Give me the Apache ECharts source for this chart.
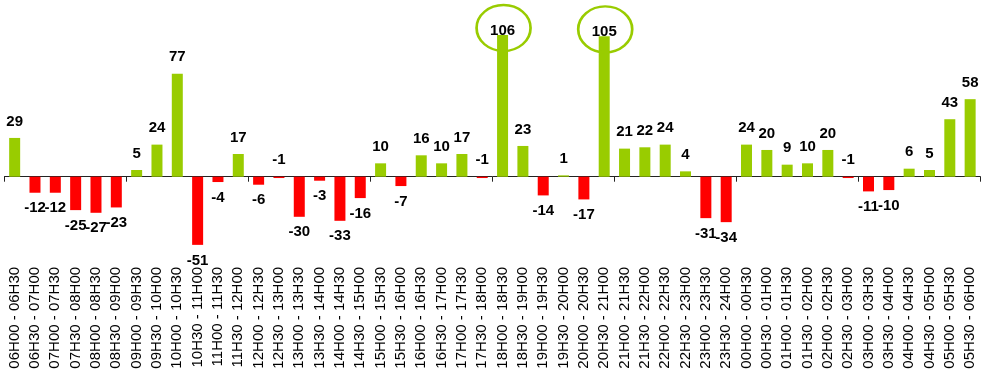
<!DOCTYPE html>
<html>
<head>
<meta charset="utf-8">
<script src="https://cdn.jsdelivr.net/npm/echarts@6/dist/echarts.min.js"></script>
<style>
html,body{margin:0;padding:0;background:#fff;}
#chart{width:985px;height:377px;}
</style>
</head>
<body>
<div id="chart"></div>
<script>
const categories = [
  "06H00 - 06H30","06H30 - 07H00","07H00 - 07H30","07H30 - 08H00","08H00 - 08H30","08H30 - 09H00",
  "09H00 - 09H30","09H30 - 10H00","10H00 - 10H30","10H30 - 11H00","11H00 - 11H30","11H30 - 12H00",
  "12H00 - 12H30","12H30 - 13H00","13H00 - 13H30","13H30 - 14H00","14H00 - 14H30","14H30 - 15H00",
  "15H00 - 15H30","15H30 - 16H00","16H00 - 16H30","16H30 - 17H00","17H00 - 17H30","17H30 - 18H00",
  "18H00 - 18H30","18H30 - 19H00","19H00 - 19H30","19H30 - 20H00","20H00 - 20H30","20H30 - 21H00",
  "21H00 - 21H30","21H30 - 22H00","22H00 - 22H30","22H30 - 23H00","23H00 - 23H30","23H30 - 24H00",
  "00H00 - 00H30","00H30 - 01H00","01H00 - 01H30","01H30 - 02H00","02H00 - 02H30","02H30 - 03H00",
  "03H00 - 03H30","03H30 - 04H00","04H00 - 04H30","04H30 - 05H00","05H00 - 05H30","05H30 - 06H00"
];
const values = [
  29,-12,-12,-25,-27,-23,
  5,24,77,-51,-4,17,
  -6,-1,-30,-3,-33,-16,
  10,-7,16,10,17,-1,
  106,23,-14,1,-17,105,
  21,22,24,4,-31,-34,
  24,20,9,10,20,-1,
  -11,-10,6,5,43,58
];
const highlighted = ["18H00 - 18H30","20H30 - 21H00"];

const GREEN = '#99CC00', RED = '#FF0000';

const seriesData = values.map((v, i) => {
  const isHi = highlighted.includes(categories[i]);
  return {
    value: v,
    itemStyle: { color: v >= 0 ? GREEN : RED },
    label: {
      position: v < -1 ? 'bottom' : 'top',
      distance: isHi ? -3 : (v < -1 ? 8 : 9)
    }
  };
});

const chart = echarts.init(document.getElementById('chart'), null, {renderer: 'canvas'});
chart.setOption({
  animation: false,
  backgroundColor: '#ffffff',
  grid: { left: 4.5, right: 4.7, top: 16.3, bottom: 120.1, containLabel: false },
  xAxis: [
    {
      type: 'category',
      data: categories,
      boundaryGap: true,
      axisLine: { show: true, onZero: true, lineStyle: { color: '#222222', width: 1 } },
      axisTick: { show: true, alignWithLabel: false, length: 5, lineStyle: { color: '#222222' } },
      axisLabel: { show: false },
      splitLine: { show: false }
    },
    {
      type: 'category',
      data: categories,
      position: 'bottom',
      boundaryGap: true,
      axisLine: { show: false, onZero: false },
      axisTick: { show: false },
      axisLabel: {
        show: true, rotate: 90, interval: 0, margin: 10,
        fontFamily: 'Liberation Sans, Arial, sans-serif', fontSize: 15, color: '#000000'
      },
      splitLine: { show: false }
    }
  ],
  yAxis: {
    type: 'value', min: -60, max: 120,
    show: false, splitLine: { show: false }
  },
  series: [{
    type: 'bar',
    xAxisIndex: 0,
    barWidth: 11,
    data: seriesData,
    label: {
      show: true,
      fontFamily: 'Liberation Sans, Arial, sans-serif',
      fontWeight: 'bold', fontSize: 15, color: '#000000'
    },
    markPoint: {
      symbol: 'circle',
      symbolSize: [54, 46],
      symbolOffset: [1, -7],
      silent: true,
      label: { show: false },
      itemStyle: { color: 'rgba(0,0,0,0)', borderColor: GREEN, borderWidth: 2.5 },
      data: highlighted.map(c => ({ coord: [c, values[categories.indexOf(c)]] }))
    }
  }]
});
</script>
</body>
</html>
